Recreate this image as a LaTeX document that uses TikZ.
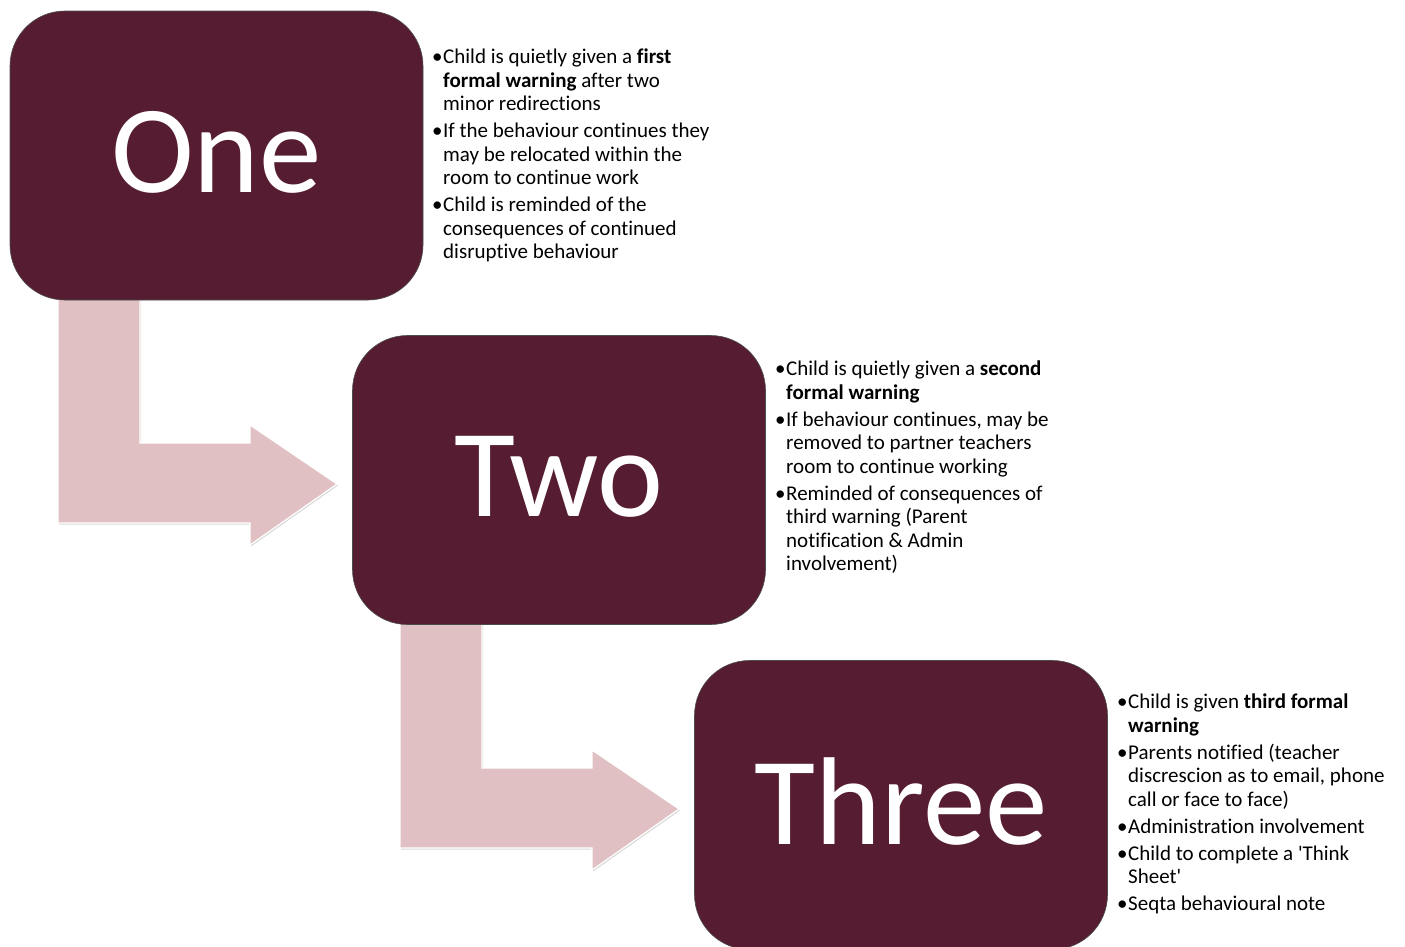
\documentclass[tikz,border=0pt]{standalone}
\usepackage{fontspec}
\setmainfont{Carlito}[Ligatures={NoCommon}]
\usetikzlibrary{positioning,shadows}
\definecolor{wine}{RGB}{86,29,50}
\definecolor{blush}{RGB}{224,192,194}
\newcommand{\itm}{\makebox[11pt][l]{\textbullet}}
\newcommand{\ind}{\hspace*{11pt}}

\begin{document}
\begin{tikzpicture}[x=1pt,y=-1pt,
  stage/.style={draw=black!70,line width=0.6pt,fill=wine,text=white,
    rounded corners=55pt,minimum width=413pt,minimum height=289pt,inner sep=0pt,
    text depth=8pt,font=\fontsize{125}{125}\selectfont},
  notes/.style={anchor=north west,align=left,inner sep=0pt,
    font=\fontsize{21}{23.5}\selectfont},
  bent/.style={fill=blush,draw=white,line width=1.2pt,
    drop shadow={opacity=0.3,shadow xshift=1pt,shadow yshift=-1.5pt}}]
\useasboundingbox (0,0) rectangle (1405,946);

% bent arrows between the stages
\foreach \dx/\dy in {0/0,342/325}{
  \begin{scope}[shift={(\dx,\dy)}]
    \path[bent] (58,296) -- (58,523) -- (250,523) -- (250,545) -- (337,484)
      -- (250,425) -- (250,443) -- (140,443) -- (140,296) -- cycle;
  \end{scope}
}

% stages
\node[stage] (one) at (216.5,155.5) {One};
\node[stage] (two) at (559,480) {Two};
\node[stage] (three) at (901,805) {Three};

% notes
\node[notes] (n1) at (432,49) {\itm Child is quietly given a \textbf{first}\\
  \ind\textbf{formal warning} after two\\
  \ind minor redirections\\[3.5pt]
  \itm If the behaviour continues they\\
  \ind may be relocated within the\\
  \ind room to continue work\\[3.5pt]
  \itm Child is reminded of the\\
  \ind consequences of continued\\
  \ind disruptive behaviour};

\node[notes] (n2) at (775,361) {\itm Child is quietly given a \textbf{second}\\
  \ind\textbf{formal warning}\\[3.5pt]
  \itm If behaviour continues, may be\\
  \ind removed to partner teachers\\
  \ind room to continue working\\[3.5pt]
  \itm Reminded of consequences of\\
  \ind third warning (Parent\\
  \ind notification \& Admin\\
  \ind involvement)};

\node[notes] (n3) at (1117,694) {\itm Child is given \textbf{third formal}\\
  \ind\textbf{warning}\\[3.5pt]
  \itm Parents notified (teacher\\
  \ind discrescion as to email, phone\\
  \ind call or face to face)\\[3.5pt]
  \itm Administration involvement\\[3.5pt]
  \itm Child to complete a \textquotesingle Think\\
  \ind Sheet\textquotesingle\\[3.5pt]
  \itm Seqta behavioural note};
\end{tikzpicture}
\end{document}
